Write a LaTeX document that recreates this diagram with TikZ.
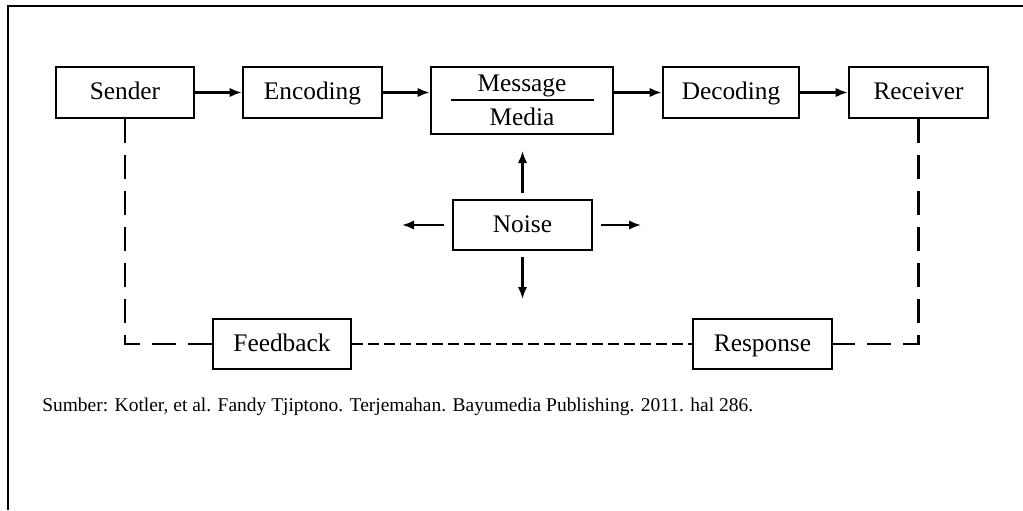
\documentclass[tikz,border=0pt]{standalone}
\usepackage{fontspec}
\setmainfont{Liberation Serif}
\usetikzlibrary{arrows.meta}
\begin{document}
\begin{tikzpicture}[x=0.75pt,y=-0.75pt,
  lbl/.style={font=\fontsize{19}{21}\selectfont,text height=14pt,text depth=3pt,inner sep=0pt},
  box/.style={lbl,draw,line width=2pt},
  arr/.style={line width=1.6pt,-{Latex[length=9pt,width=7pt]}},
  longdash/.style={line width=2pt,dash pattern=on 18pt off 9pt},
  shortdash/.style={line width=1.8pt,dash pattern=on 8pt off 4pt}]
\useasboundingbox (0,0) rectangle (1023,510);
\fill[white] (0,0) rectangle (1023,510);
\draw[line width=1.5pt] (1023,6) -- (8,6) -- (8,510);
% top row
\node[box,minimum width=103.5pt,minimum height=38.25pt] (sender) at (125,92.5) {Sender};
\node[box,minimum width=104.25pt,minimum height=38.25pt] (enc) at (312.5,92.5) {Encoding};
\node[box,minimum width=136.5pt,minimum height=50.25pt] (msg) at (522,100.5) {};
\node[lbl] (msgt) at (522,84) {Message};
\node[lbl] (medt) at (522,118) {Media};
\coordinate (dl) at (451,100);
\coordinate (dr) at (594,100);
\draw[line width=1.8pt] (dl) -- (dr);
\node[box,minimum width=102pt,minimum height=38.25pt] (dec) at (731,92.5) {Decoding};
\node[box,minimum width=104.25pt,minimum height=38.25pt] (rec) at (918.5,92.5) {Receiver};
\draw[arr] (sender) -- (enc);
\draw[arr] (enc) -- (msg.west |- enc);
\draw[arr] (msg.east |- dec) -- (dec);
\draw[arr] (dec) -- (rec);
% noise
\node[box,minimum width=104.25pt,minimum height=37.5pt] (noise) at (522.5,225) {Noise};
\coordinate (nu) at (522.5,151);
\coordinate (nd) at (522.5,299);
\coordinate (nl) at (402,225);
\coordinate (nr) at (641,225);
\draw[arr] ([yshift=4.5pt]noise.north) -- (nu);
\draw[arr] ([yshift=-4.5pt]noise.south) -- (nd);
\draw[arr] ([xshift=-6pt]noise.west) -- (nl);
\draw[arr] ([xshift=6pt]noise.east) -- (nr);
% bottom row
\node[box,minimum width=103.5pt,minimum height=37.5pt] (fb) at (282,344) {Feedback};
\node[box,minimum width=104.25pt,minimum height=37.5pt] (resp) at (762.5,344) {Response};
\coordinate (cl) at (sender.south |- fb);
\coordinate (cr) at (rec.south |- resp);
\draw[longdash] (sender.south) -- (cl) -- (fb.west);
\draw[shortdash] (fb.east) -- (resp.west);
\draw[longdash] (rec.south) -- (cr) -- (resp.east);
% caption
\node[anchor=west,inner sep=0pt,font=\fontsize{14.6}{16}\selectfont] (cap) at (42,407) {Sumber: Kotler, et al. Fandy Tjiptono. Terjemahan. Bayumedia Publishing. 2011. hal 286.};
\end{tikzpicture}
\end{document}
